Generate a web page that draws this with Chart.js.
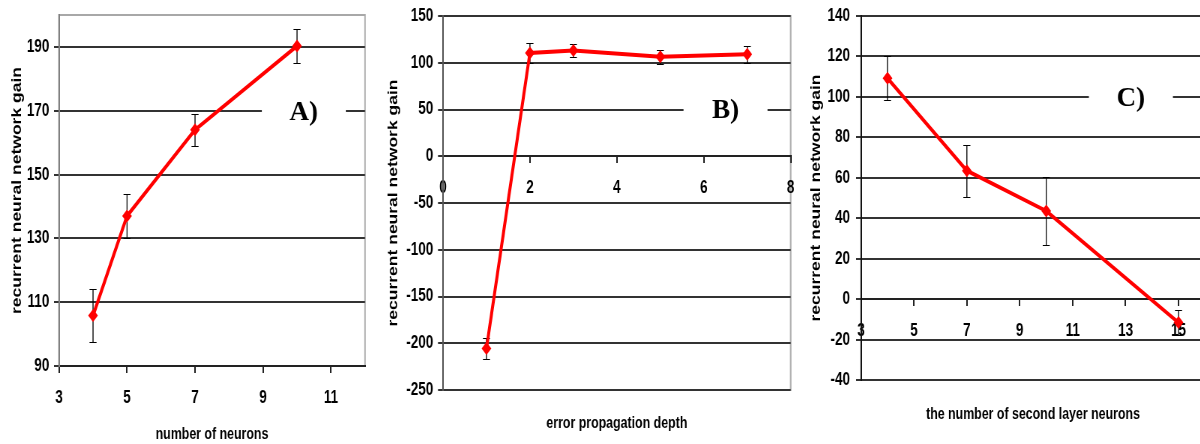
<!DOCTYPE html>
<html>
<head>
<meta charset="utf-8">
<script src="https://cdn.jsdelivr.net/npm/chart.js@4.4.0/dist/chart.umd.min.js"></script>
<style>
  html, body { margin: 0; padding: 0; background: #fff; width: 1200px; height: 444px; overflow: hidden; }
  .panel { position: absolute; top: 0; transform: scaleX(0.75); transform-origin: 0 0; }
</style>
</head>
<body>
<div class="panel" style="left:0px"><canvas id="chartA" width="533" height="444"></canvas></div>
<div class="panel" style="left:380px"><canvas id="chartB" width="560" height="444"></canvas></div>
<div class="panel" style="left:790px"><canvas id="chartC" width="613" height="444"></canvas></div>
<script>
// panel A: gain vs number of neurons
const neuronsA = [4, 5, 7, 10];
const gainA = [105.8, 137, 164, 190.3];
const errA = [8.4, 7, 4.9, 5.2];
const yTicksA = [90, 110, 130, 150, 170, 190];
const xTicksA = [3, 5, 7, 9, 11];

// panel B: gain vs error propagation depth
const depthB = [1, 2, 3, 5, 7];
const gainB = [-205.5, 110.5, 113, 106.4, 109];
const errB = [11.5, 10.5, 7, 7.5, 9];
const yTicksB = [-250, -200, -150, -100, -50, 0, 50, 100, 150];
const xTicksB = [0, 2, 4, 6, 8];

// panel C: gain vs second layer neurons
const neuronsC = [4, 7, 10, 15];
const gainC = [109.2, 63.5, 43.6, -11.6];
const errC = [10.8, 12.8, 16.6, 6.3];
const yTicksC = [-40, -20, 0, 20, 40, 60, 80, 100, 120, 140];
const xTicksC = [3, 5, 7, 9, 11, 13, 15];

const yTitle = 'recurrent neural network gain';
const sq = 0.75; // the original figure is squeezed sideways
const sans = "'Liberation Sans', Arial, sans-serif";

// error bars, drawn under the line
const errorBars = {
    id: 'errorBars',
    beforeDatasetsDraw(chart) {
        const errs = chart.options.plugins.errorBars.values;
        const ctx = chart.ctx;
        const xs = chart.scales.x, ys = chart.scales.y;
        ctx.save();
        ctx.strokeStyle = '#000';
        chart.data.datasets[0].data.forEach((p, i) => {
            const px = xs.getPixelForValue(p.x);
            const top = Math.round(ys.getPixelForValue(p.y + errs[i])) + 0.5;
            const bot = Math.round(ys.getPixelForValue(p.y - errs[i])) + 0.5;
            ctx.lineWidth = 1 / sq;
            ctx.beginPath();
            ctx.moveTo(px, top); ctx.lineTo(px, bot);
            ctx.stroke();
            ctx.lineWidth = 1;
            ctx.beginPath();
            ctx.moveTo(px - 4.7, top); ctx.lineTo(px + 4.7, top);
            ctx.moveTo(px - 4.7, bot); ctx.lineTo(px + 4.7, bot);
            ctx.stroke();
        });
        ctx.restore();
    }
};

// light frame round the plot area
const frame = {
    id: 'frame',
    beforeDraw(chart) {
        const a = chart.chartArea, ctx = chart.ctx;
        ctx.save();
        ctx.strokeStyle = '#a8a8a8';
        ctx.lineWidth = 2;
        ctx.strokeRect(a.left, a.top, a.right - a.left, a.bottom - a.top);
        ctx.restore();
    }
};

// big "A)" "B)" "C)" letters on a white patch
const panelLabel = {
    id: 'panelLabel',
    afterDatasetsDraw(chart) {
        const o = chart.options.plugins.panelLabel;
        const ctx = chart.ctx;
        const cx = chart.scales.x.getPixelForValue(o.x);
        const cy = chart.scales.y.getPixelForValue(o.y);
        ctx.save();
        ctx.translate(cx, cy);
        ctx.scale(1 / sq, 1);
        ctx.fillStyle = '#fff';
        ctx.fillRect(-42, -14, 84, 28);
        ctx.fillStyle = '#000';
        ctx.font = "bold 27px 'Liberation Serif', 'DejaVu Serif', serif";
        ctx.textAlign = 'center';
        ctx.textBaseline = 'middle';
        ctx.fillText(o.text, 0, 2);
        ctx.restore();
    }
};

function makePanel(id, xs, ys, errs, cfg) {
    const pts = xs.map((x, i) => ({ x: x, y: ys[i] }));
    return new Chart(document.getElementById(id), {
        type: 'line',
        data: {
            datasets: [{
                data: pts,
                borderColor: '#ff0000',
                backgroundColor: '#ff0000',
                borderWidth: 4,
                pointStyle: 'rectRot',
                pointRadius: 6.5,
                pointBorderWidth: 0,
                tension: 0
            }]
        },
        options: {
            responsive: false,
            animation: false,
            events: [],
            layout: { padding: { left: 0, top: cfg.top, right: cfg.right, bottom: 0 } },
            plugins: {
                legend: { display: false },
                tooltip: { enabled: false },
                title: {
                    display: true,
                    position: 'bottom',
                    fullSize: false,
                    text: cfg.xTitle,
                    color: '#000',
                    font: { family: sans, size: 16.5, weight: 'bold', lineHeight: 1.2 },
                    padding: { top: cfg.titleTop, bottom: cfg.titleBottom }
                },
                errorBars: { values: errs },
                panelLabel: cfg.label
            },
            scales: {
                x: {
                    type: 'linear',
                    position: { y: cfg.xAxisAt },
                    min: cfg.xMin,
                    max: cfg.xMax,
                    afterBuildTicks: s => { s.ticks = cfg.xTicks.map(v => ({ value: v })); },
                    afterFit: s => { s.paddingLeft = 0; s.paddingRight = 0; },
                    grid: { drawOnChartArea: false, drawTicks: true, tickLength: 6, color: '#222', lineWidth: 2 },
                    border: { display: true, color: '#222', width: 2 },
                    ticks: {
                        color: '#000',
                        padding: 15,
                        maxRotation: 0,
                        autoSkip: false,
                        font: { family: sans, size: 18, weight: 'bold' }
                    }
                },
                y: {
                    type: 'linear',
                    min: cfg.yMin,
                    max: cfg.yMax,
                    afterBuildTicks: s => { s.ticks = cfg.yTicks.map(v => ({ value: v })); },
                    afterFit: s => { s.width = cfg.axisLeft; s.paddingTop = 0; s.paddingBottom = 0; },
                    grid: { color: '#333', lineWidth: 2, tickLength: 6.7 },
                    border: { display: true, color: cfg.axisColor, width: 2 },
                    ticks: {
                        color: '#000',
                        padding: cfg.yPad,
                        autoSkip: false,
                        font: { family: sans, size: 18, weight: 'bold' }
                    },
                    title: {
                        display: true,
                        text: yTitle,
                        color: '#000',
                        font: { family: sans, size: 17.5, weight: 'bold', lineHeight: 1.2 },
                        padding: { top: cfg.yTitlePad, bottom: 0 }
                    }
                }
            }
        },
        plugins: [frame, errorBars, panelLabel]
    });
}

makePanel('chartA', neuronsA, gainA, errA, {
    top: 15, right: 46.3, axisLeft: 78.7, axisColor: '#808080', yPad: 6.3, yTitlePad: 12.2,
    xMin: 3, xMax: 12, xTicks: xTicksA, xAxisAt: 90,
    yMin: 90, yMax: 200, yTicks: yTicksA,
    xTitle: 'number of neurons', titleTop: 58.2, titleBottom: 0,
    label: { text: 'A)', x: 10.2, y: 170 }
});

makePanel('chartB', depthB, gainB, errB, {
    top: 16, right: 12.4, axisLeft: 84, axisColor: '#555', yPad: 6.2, yTitlePad: 7.2,
    xMin: 0, xMax: 8, xTicks: xTicksB, xAxisAt: 0,
    yMin: -250, yMax: 150, yTicks: yTicksB,
    xTitle: 'error propagation depth', titleTop: 23.8, titleBottom: 10.4,
    label: { text: 'B)', x: 6.5, y: 50 }
});

makePanel('chartC', neuronsC, gainC, errC, {
    top: 16, right: 59.7, axisLeft: 94.7, axisColor: '#111', yPad: 8, yTitlePad: 25.1,
    xMin: 3, xMax: 16, xTicks: xTicksC, xAxisAt: 0,
    yMin: -40, yMax: 140, yTicks: yTicksC,
    xTitle: 'the number of second layer neurons', titleTop: 24.3, titleBottom: 19.9,
    label: { text: 'C)', x: 13.2, y: 100 }
});
</script>
</body>
</html>
